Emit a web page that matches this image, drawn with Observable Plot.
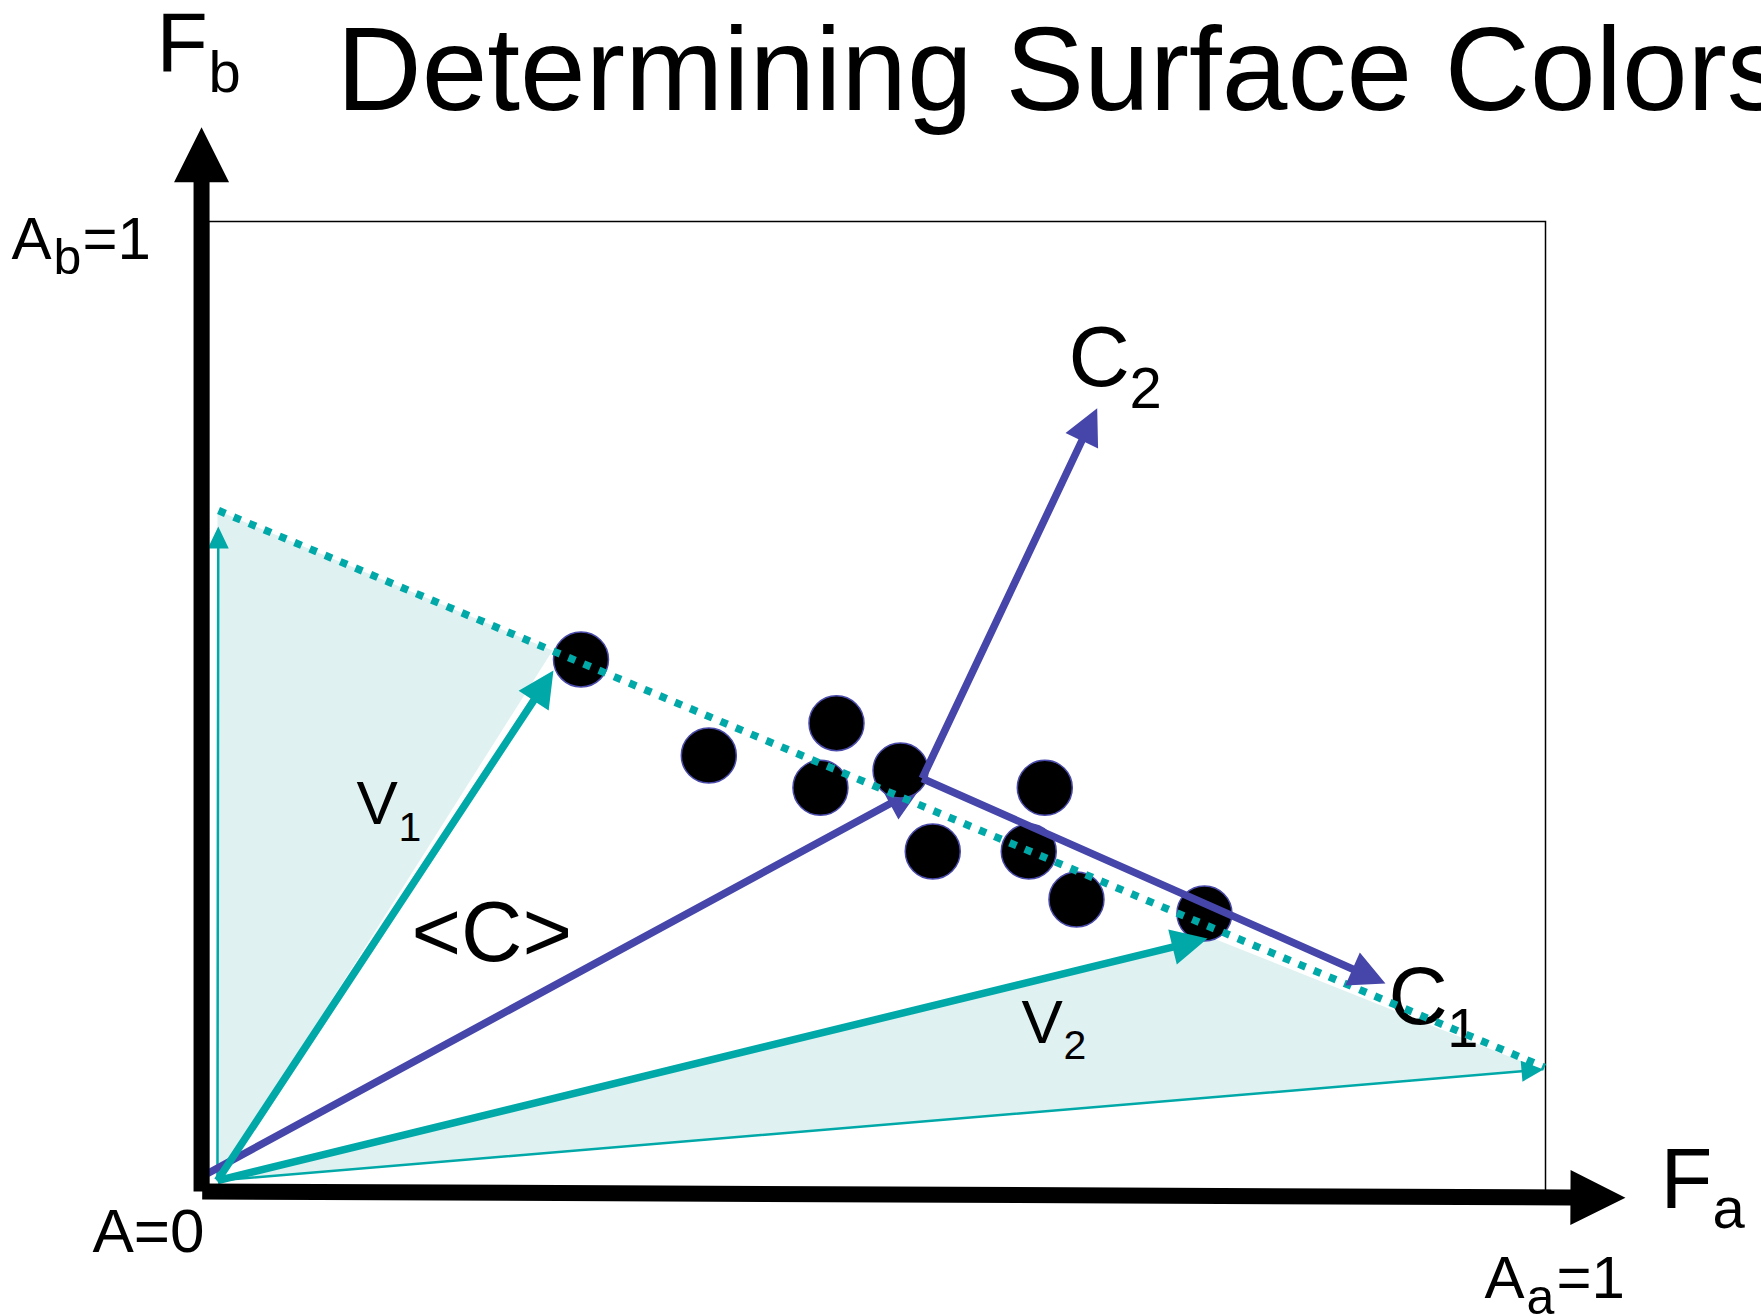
<!DOCTYPE html>
<html><head><meta charset="utf-8">
<script src="https://cdn.jsdelivr.net/npm/d3@7"></script>
<script src="https://cdn.jsdelivr.net/npm/@observablehq/plot@0.6"></script>
<style>html,body{margin:0;padding:0;background:#fff;overflow:hidden}</style>
</head><body><div id="chart"></div>
<script>
// ---- Data (diagram units: Fa across, Fb up; the box is [0,1] x [0,1]) ----
const dotFa = [0.2786, 0.3742, 0.4697, 0.4577, 0.5176, 0.6255, 0.5417, 0.6135, 0.6492, 0.7449];
const dotFb = [0.5485, 0.4495, 0.4828, 0.4162, 0.4340, 0.4162, 0.3505, 0.3505, 0.3010, 0.2866];

const arrowName = ["Fb axis", "Fa axis", "A_b", "A_a", "<C>", "V1", "V2", "C1", "C2"];
const arrowKind = ["axis", "axis", "thin", "thin", "purple", "teal", "teal", "purple", "purple"];
const arrowFa1 = [-0.0052, -0.0047, 0.0067, 0.0067, -0.0007, 0.0067, 0.0067, 0.5338, 0.5338];
const arrowFb1 = [0.0, 0.0, 0.0113, 0.0113, 0.0186, 0.0113, 0.0113, 0.4258, 0.4258];
const arrowFa2 = [-0.0052, 1.0598, 0.0073, 0.9985, 0.5333, 0.2580, 0.7472, 0.8803, 0.6647];
const arrowFb2 = [1.0972, -0.0065, 0.6856, 0.1258, 0.4175, 0.5371, 0.2608, 0.2144, 0.8075];

const lineFa = [0.0075, 0.9993];   // dotted colour line
const lineFb = [0.702, 0.128];

const shadeRegion = ["r1", "r1", "r1", "r2", "r2", "r2"];
const shadeFa = [0.0067, 0.0067, 0.2573, 0.0067, 0.7517, 0.997];
const shadeFb = [0.0113, 0.702, 0.5577, 0.0113, 0.2608, 0.1258];

const labelText = ["Determining Surface Colors", "F", "b", "A", "b", "=1", "A=0", "A", "a", "=1", "F", "a",
  "V", "1", "<C>", "V", "2", "C", "2", "C", "1"];
const labelFa = [0.0957, -0.0389, 0.0000, -0.1473, -0.1159, -0.0942, -0.0868, 0.9544, 0.9858, 1.0082, 1.0860, 1.1249,
  0.1107, 0.1421, 0.1518, 0.6081, 0.6395, 0.6432, 0.6889, 0.8826, 0.9266];
const labelFb = [1.1152, 1.1550, 1.1330, 0.9616, 0.9454, 0.9616, -0.0619, -0.1103, -0.1258, -0.1103, -0.0168, -0.0381,
  0.3784, 0.3611, 0.2381, 0.1529, 0.1368, 0.8299, 0.8079, 0.1722, 0.1488];
const labelSize = [118, 84, 58, 60, 50, 60, 62, 60, 50, 60, 85, 58,
  62, 41, 85, 62, 41, 85, 58, 82, 56];

// ---- Styles ----
const teal = "#00a8a8", purple = "#4646aa", shade = "#dff1f1";
const kindStyle = {
  axis: {color: "#000", shaft: 16, head: 55, headW: 55},
  thin: {color: teal, shaft: 2.5, head: 22, headW: 21},
  teal: {color: teal, shaft: 7.5, head: 36, headW: 36},
  purple: {color: purple, shaft: 7.5, head: 36, headW: 36}
};

const W = 1761, H = 1316;
const M = {left: 208, right: 216, top: 221, bottom: 125};
const sx = d3.scaleLinear([0, 1], [M.left, W - M.right]);
const sy = d3.scaleLinear([0, 1], [H - M.bottom, M.top]);

const arrows = arrowName.map((name, i) => ({name, kind: arrowKind[i], x1: arrowFa1[i], y1: arrowFb1[i], x2: arrowFa2[i], y2: arrowFb2[i]}));
const dots = dotFa.map((fa, i) => ({fa, fb: dotFb[i]}));
const dotted = lineFa.map((fa, i) => ({fa, fb: lineFb[i]}));
const shades = shadeFa.map((fa, i) => ({fa, fb: shadeFb[i], region: shadeRegion[i]}));
const labels = labelText.map((text, i) => ({text, fa: labelFa[i], fb: labelFb[i], size: labelSize[i]}));

function arrowShape(shaft, headLen, headWidth) {
  const s = shaft / 2, hw = headWidth / 2;
  return {
    draw(ctx, l) {
      const b = Math.max(0, l - headLen);
      ctx.moveTo(-s, 0);
      ctx.lineTo(-s, -b);
      ctx.lineTo(-hw, -b);
      ctx.lineTo(0, -l);
      ctx.lineTo(hw, -b);
      ctx.lineTo(s, -b);
      ctx.lineTo(s, 0);
      ctx.closePath();
    }
  };
}

function arrowMark(name) {
  const a = arrows.find((d) => d.name === name);
  const st = kindStyle[a.kind];
  const dx = sx(a.x2) - sx(a.x1), dy = sy(a.y2) - sy(a.y1);
  return Plot.vector([a], {
    x: "x1", y: "y1",
    length: Math.hypot(dx, dy),
    rotate: Math.atan2(dx, -dy) * 180 / Math.PI,
    anchor: "start",
    shape: arrowShape(st.shaft, st.head, st.headW),
    fill: st.color, stroke: "none"
  });
}

const font = "Liberation Sans, Arial, Helvetica, sans-serif";

const chart = Plot.plot({
  width: W, height: H,
  marginLeft: M.left, marginRight: M.right, marginTop: M.top, marginBottom: M.bottom,
  x: {domain: [0, 1], axis: null},
  y: {domain: [0, 1], axis: null},
  style: {background: "white", overflow: "visible"},
  marks: [
    Plot.line(shades, {x: "fa", y: "fb", z: "region", fill: shade, stroke: "none"}),
    Plot.frame({stroke: "black", strokeWidth: 1.5}),
    arrowMark("A_b"),
    arrowMark("A_a"),
    arrowMark("<C>"),
    Plot.dot(dots, {x: "fa", y: "fb", r: 27.5, fill: "black", stroke: "#4a4aaa", strokeWidth: 1.5}),
    arrowMark("V1"),
    arrowMark("V2"),
    Plot.text(labels, {x: "fa", y: "fb", text: "text", fontSize: (d) => d.size, textAnchor: "start", lineAnchor: "bottom", fontFamily: font, fill: "black"}),
    Plot.line(dotted, {x: "fa", y: "fb", stroke: teal, strokeWidth: 7.5, strokeDasharray: "7.5,9", strokeLinecap: "butt"}),
    arrowMark("C1"),
    arrowMark("C2"),
    arrowMark("Fb axis"),
    arrowMark("Fa axis")
  ]
});
document.getElementById("chart").append(chart);
</script></body></html>
